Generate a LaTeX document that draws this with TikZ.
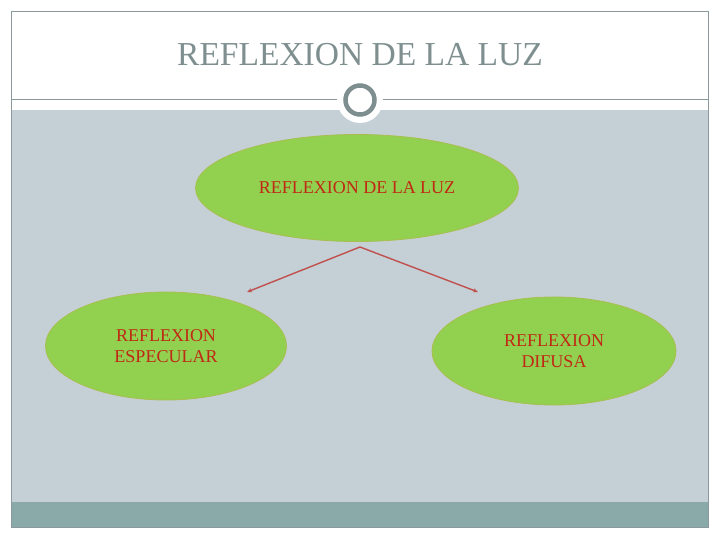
\documentclass[tikz,border=0pt]{standalone}
\usepackage{fontspec}
\setmainfont{Liberation Serif}
\usetikzlibrary{shapes.geometric,arrows.meta}
\definecolor{fondo}{RGB}{197,208,214}
\definecolor{barra}{RGB}{138,170,170}
\definecolor{marco}{RGB}{138,154,154}
\definecolor{titulo}{RGB}{127,143,143}
\definecolor{verde}{RGB}{146,208,80}
\definecolor{borde}{RGB}{170,190,80}
\definecolor{texto}{RGB}{192,40,20}
\definecolor{flecha}{RGB}{192,80,77}
\tikzset{
  burbuja/.style={ellipse,fill=verde,draw=borde,line width=0.8pt,inner sep=0pt,
    text=texto,font=\fontsize{18}{21}\selectfont,align=center},
  rayo/.style={draw=flecha,line width=1.4pt,-{Stealth[length=5pt,width=4pt]}}
}
\begin{document}
\begin{tikzpicture}[x=1pt,y=-1pt]
  \useasboundingbox (0,0) rectangle (720,540);
  \fill[white] (0,0) rectangle (720,540);
  %Fondo
  \fill[fondo] (11,110) rectangle (708,502);
  \fill[barra] (11,502) rectangle (708,527);
  \draw[marco,line width=1pt] (11,12) rectangle (708,527);
  \draw[marco,line width=1pt] (11,100) -- (708,100);
  %Titulo
  \node (titulo) at (360,55) {\fontsize{33.5}{36}\selectfont\color{titulo}REFLEXION DE LA LUZ};
  \fill[white] (360,100) circle (23);
  \draw[titulo,line width=4.5pt] (360,100) circle (14.5);
  %Elipses
  \node[burbuja,minimum width=323,minimum height=107] (luz) at (357,188) {REFLEXION DE LA LUZ};
  \node[burbuja,minimum width=241,minimum height=108] (especular) at (166,346) {REFLEXION\\ESPECULAR};
  \node[burbuja,minimum width=244,minimum height=108] (difusa) at (554,351) {REFLEXION\\DIFUSA};
  %Flechas
  \coordinate (vertice) at (360,247);
  \coordinate (izq) at (247,292);
  \coordinate (der) at (478,292);
  \draw[rayo] (vertice) -- (izq);
  \draw[rayo] (vertice) -- (der);
\end{tikzpicture}
\end{document}
